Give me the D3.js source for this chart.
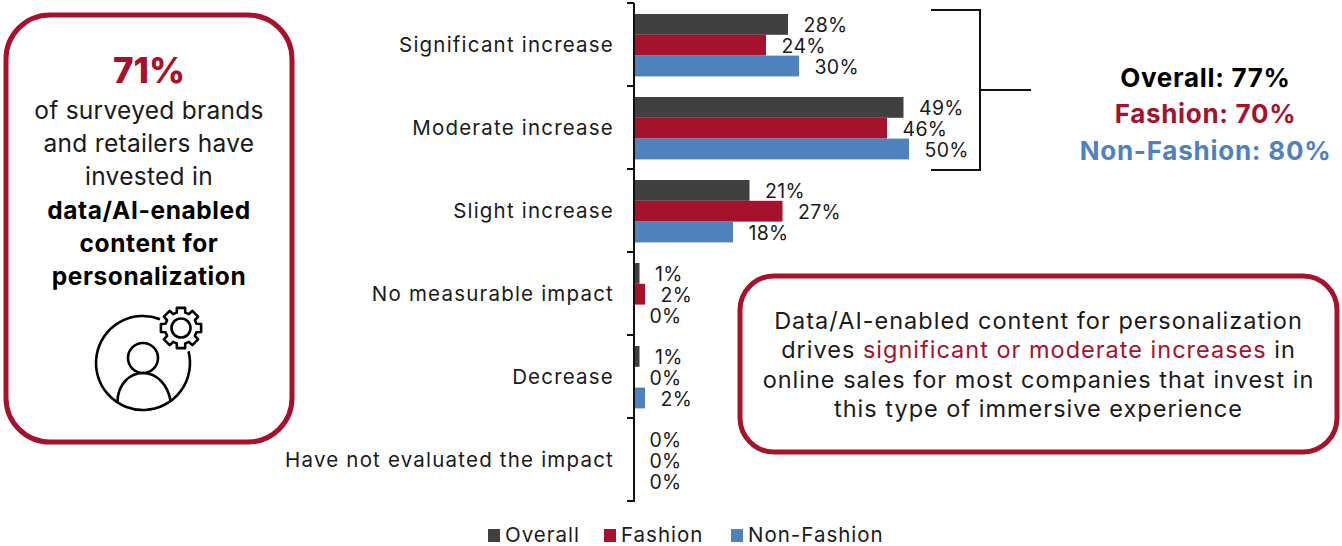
<!DOCTYPE html>
<html><head><meta charset="utf-8">
<script src="https://cdn.jsdelivr.net/npm/d3@7/dist/d3.min.js"></script>
<style>html,body{margin:0;padding:0;background:#fff}svg{display:block}text{font-family:Inter,"Open Sans",sans-serif;fill:#1a1a1a}</style>
</head><body><svg id="c" width="1342" height="546"></svg>
<script>
const categories=["Significant increase","Moderate increase","Slight increase","No measurable impact","Decrease","Have not evaluated the impact"];
const seriesNames=["Overall","Fashion","Non-Fashion"];
const overall=[28,49,21,1,1,0];
const fashion=[24,46,27,2,0,0];
const nonFashion=[30,50,18,0,2,0];
const colors=["#404040","#A6112B","#4F81BD"];
const red="#A6112B";
const svg=d3.select("#c");
const x=d3.scaleLinear().domain([0,50]).range([634,909]);
const y=d3.scaleBand().domain(categories).range([3,501]).paddingInner(0).paddingOuter(0);
const inner=d3.scaleBand().domain(seriesNames).range([11,y.bandwidth()-9.6]);
const all=[overall,fashion,nonFashion];
function T(s,px,py,size,o={}){const t=svg.append("text").attr("x",px).attr("y",py).attr("font-size",size).attr("text-anchor",o.a||"middle").attr("font-weight",o.w||400).style("fill",o.c||"#1a1a1a").text(s);if(o.ls)t.attr("letter-spacing",o.ls);return t;}
// boxes
svg.append("rect").attr("x",6).attr("y",15).attr("width",286).attr("height",427).attr("rx",44).attr("fill","#fff").attr("stroke",red).attr("stroke-width",5);
svg.append("rect").attr("x",740).attr("y",276).attr("width",597).attr("height",176).attr("rx",34).attr("fill","#fff").attr("stroke",red).attr("stroke-width",5);
// bars
seriesNames.forEach((n,i)=>{
 svg.append("g").selectAll("rect").data(all[i]).join("rect")
  .attr("x",x(0)).attr("y",(d,j)=>y(categories[j])+inner(n)).attr("width",d=>x(d)-x(0)).attr("height",inner.bandwidth()).attr("fill",colors[i]);
 svg.append("g").selectAll("text").data(all[i]).join("text")
  .attr("x",d=>x(d)+15.5).attr("y",(d,j)=>y(categories[j])+inner(n)+inner.bandwidth()/2+8)
  .attr("font-size",19.5).attr("letter-spacing",0.3).text(d=>d+"%");
});
// axis
const axis=d3.axisLeft(y).tickSize(0).tickPadding(20);
const ag=svg.append("g").attr("transform","translate(634,1)").call(axis);
ag.select(".domain").remove();
ag.selectAll("text").attr("font-size",20.5).attr("font-family",null).attr("letter-spacing",1.2);
svg.append("line").attr("x1",634).attr("x2",634).attr("y1",3).attr("y2",502).attr("stroke","#111").attr("stroke-width",2);
svg.append("g").selectAll("line").data(d3.range(7)).join("line").attr("x1",627).attr("x2",634)
 .attr("y1",d=>3+d*y.step()).attr("y2",d=>3+d*y.step()).attr("stroke","#111").attr("stroke-width",2);
// bracket
svg.append("path").attr("d",d3.line()([[931,10],[980,10],[980,170],[931,170]])).attr("fill","none").attr("stroke","#111").attr("stroke-width",2);
svg.append("line").attr("x1",980).attr("x2",1031).attr("y1",90).attr("y2",90).attr("stroke","#111").attr("stroke-width",2);
T("Overall: 77%",1205.5,87,26,{w:700,c:"#000",ls:0.7});
T("Fashion: 70%",1205.5,123,26,{w:700,c:red,ls:0.7});
T("Non-Fashion: 80%",1205.5,160,26,{w:700,c:colors[2],ls:0.75});
// left panel
T("71%",149,83,35,{w:800,c:red});
T("of surveyed brands",149,119,24.5,{ls:0.28});
T("and retailers have",149,152,24.5,{ls:0.28});
T("invested in",149,185,24.5,{ls:0.28});
T("data/AI-enabled",149,219,24.5,{w:700,c:"#000",ls:0.6});
T("content for",149,252,24.5,{w:700,c:"#000",ls:0.6});
T("personalization",149,285,24.5,{w:700,c:"#000",ls:0.6});
// icon
const ic=svg.append("g").attr("fill","none").attr("stroke","#000").attr("stroke-width",2.6).attr("stroke-linecap","round");
const arc=d3.arc();
ic.append("path").attr("transform","translate(143,363)").attr("d",arc({innerRadius:47,outerRadius:47,startAngle:1.32,endAngle:0.37+2*Math.PI}));
ic.append("circle").attr("cx",143).attr("cy",358).attr("r",15);
ic.append("path").attr("d","M117.5 401 C118 385 129 373 143 373 C157 373 168 385 170.5 401");
const gear=svg.append("g").attr("fill","none").attr("stroke","#000").attr("stroke-width",2.6).attr("stroke-linejoin","round").attr("transform","translate(181,328)");
gear.append("circle").attr("r",9.5);
const pts=[];const teeth=8;
for(let i=0;i<teeth;i++){const a=i/teeth*2*Math.PI;const s=0.2;
 [[16,-s*1.35],[20.5,-s],[20.5,s],[16,s*1.35]].forEach(([r,d])=>pts.push([r*Math.sin(a+d),-r*Math.cos(a+d)]));}
gear.append("path").attr("d",d3.line()(pts)+"Z");
// callout
T("Data/AI-enabled content for personalization",1038.5,329,23.5,{ls:1});
const l2=T("",1038.5,358,23.5,{ls:1});
l2.append("tspan").text("drives ");
l2.append("tspan").style("fill",red).text("significant or moderate increases");
l2.append("tspan").text(" in");
T("online sales for most companies that invest in",1038.5,388,23.5,{ls:1});
T("this type of immersive experience",1038.5,417,23.5,{ls:1});
// legend
const lx=[488,604,731],tx=[505,621,748];
seriesNames.forEach((n,i)=>{
 svg.append("rect").attr("x",lx[i]).attr("y",529).attr("width",12).attr("height",13).attr("fill",colors[i]);
 T(n,tx[i],542,20.5,{a:"start",ls:1});
});
</script></body></html>
